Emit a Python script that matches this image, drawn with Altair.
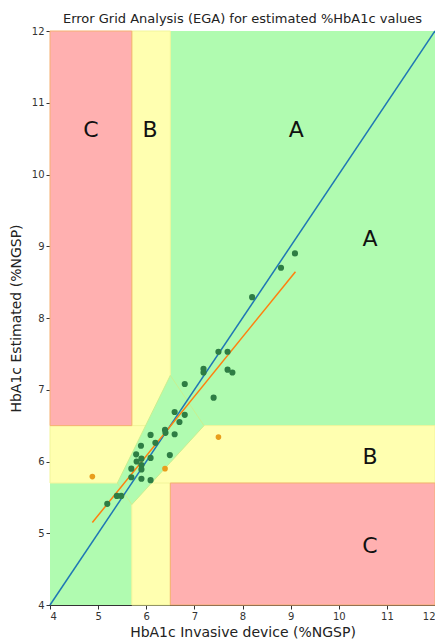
import altair as alt
import pandas as pd

# measured (dark green) points: invasive vs estimated
inv_a = [5.19, 5.39, 5.48, 5.69, 5.69, 5.79, 5.89, 5.90, 5.80, 5.90, 5.90, 5.90, 6.09, 6.09, 6.09,
         6.19, 6.39, 6.40, 6.59, 6.49, 6.59, 6.69, 6.80, 6.80, 7.19, 7.19, 7.40, 7.50, 7.69, 7.79,
         7.69, 8.20, 8.80, 9.09]
est_a = [5.41, 5.52, 5.52, 5.78, 5.90, 6.10, 6.22, 6.04, 6.00, 5.95, 5.89, 5.76, 5.74, 6.05, 6.37,
         6.26, 6.44, 6.40, 6.38, 6.09, 6.69, 6.55, 6.65, 7.08, 7.29, 7.24, 6.89, 7.53, 7.28, 7.24,
         7.53, 8.29, 8.70, 8.90]
# orange points
inv_b = [4.88, 6.39, 7.50]
est_b = [5.79, 5.90, 6.34]
# regression line end points
reg_x = [4.88, 9.10]
reg_y = [5.15, 8.645]

# zone labels
lab_text = ["C", "B", "A", "A", "B", "C"]
lab_x = [4.85, 6.08, 9.12, 10.65, 10.65, 10.65]
lab_y = [10.62, 10.62, 10.62, 9.10, 6.06, 4.82]

# zone geometry
rects = pd.DataFrame({
    "x":  [4.0, 6.5, 5.7, 4.0],
    "x2": [5.7, 12.0, 6.5, 12.0],
    "y":  [6.5, 4.0, 4.0, 5.7],
    "y2": [12.0, 5.7, 12.0, 6.5],
    "zone": ["C", "C", "B", "B"],
})
green_band = pd.DataFrame({
    "x":  [5.4, 5.7, 6.5, 7.2],
    "y":  [5.7, 5.4, 5.4 + 0.8 * 1.1 / 1.5, 6.5],
    "y2": [5.7, 5.7 + 0.3 * 1.5 / 1.1, 7.2, 6.5],
})

xs = alt.Scale(domain=[4, 12], nice=False, zero=False)
ys = alt.Scale(domain=[4, 12], nice=False, zero=False)
ticks = list(range(4, 13))

xaxis = alt.Axis(values=ticks, format="d", title="HbA1c Invasive device (%NGSP)", grid=False,
                 labelFontSize=10, titleFontSize=14, titleFontWeight="normal",
                 labelColor="#333", titleColor="#222", tickColor="#333", domainColor="#333",
                 tickSize=4, labelPadding=2, titlePadding=4, labelFont="DejaVu Sans", titleFont="DejaVu Sans")
yaxis = alt.Axis(values=ticks, format="d", title="HbA1c Estimated (%NGSP)", grid=False,
                 labelFontSize=10, titleFontSize=14, titleFontWeight="normal",
                 labelColor="#333", titleColor="#222", tickColor="#333", domainColor="#333",
                 tickSize=4, titlePadding=8, labelFont="DejaVu Sans", titleFont="DejaVu Sans")

bg = alt.Chart(pd.DataFrame({"x": [4.0], "x2": [12.0], "y": [4.0], "y2": [12.0]})).mark_rect(
    color="#b0fbb0").encode(
    x=alt.X("x:Q", scale=xs, axis=xaxis), x2="x2", y=alt.Y("y:Q", scale=ys, axis=yaxis), y2="y2")

zones = alt.Chart(rects).mark_rect(strokeWidth=1).encode(
    x=alt.X("x:Q", scale=xs), x2="x2", y=alt.Y("y:Q", scale=ys), y2="y2",
    fill=alt.Fill("zone:N", scale=alt.Scale(domain=["B", "C"], range=["#ffffb0", "#ffb0b0"]), legend=None),
    stroke=alt.Stroke("zone:N", scale=alt.Scale(domain=["B", "C"], range=["#f2f59a", "#f5b070"]), legend=None),
    order=alt.Order("zone:N", sort="ascending"),
)

band = alt.Chart(green_band).mark_area(color="#b0fbb0", stroke="#c8f090", strokeWidth=1).encode(
    x=alt.X("x:Q", scale=xs), y=alt.Y("y:Q", scale=ys), y2="y2")

ident = alt.Chart(pd.DataFrame({"x": [4, 12], "y": [4, 12]})).mark_line(
    color="#1f77b4", strokeWidth=1.5).encode(x=alt.X("x:Q", scale=xs), y=alt.Y("y:Q", scale=ys))

reg = alt.Chart(pd.DataFrame({"x": reg_x, "y": reg_y})).mark_line(
    color="#ff7f0e", strokeWidth=1.5).encode(x=alt.X("x:Q", scale=xs), y=alt.Y("y:Q", scale=ys))

pts_a = alt.Chart(pd.DataFrame({"x": inv_a, "y": est_a})).mark_circle(
    color="#2e7d44", opacity=1, size=38).encode(x=alt.X("x:Q", scale=xs), y=alt.Y("y:Q", scale=ys))

pts_b = alt.Chart(pd.DataFrame({"x": inv_b, "y": est_b})).mark_circle(
    color="#e89e1c", opacity=1, size=32).encode(x=alt.X("x:Q", scale=xs), y=alt.Y("y:Q", scale=ys))

labels = alt.Chart(pd.DataFrame({"t": lab_text, "x": lab_x, "y": lab_y})).mark_text(
    fontSize=22, font="DejaVu Sans", color="#111", align="center", baseline="middle").encode(
    x=alt.X("x:Q", scale=xs), y=alt.Y("y:Q", scale=ys), text="t:N")

chart = alt.layer(bg, zones, band, ident, reg, pts_a, pts_b, labels).properties(
    width=385, height=574,
    title=alt.TitleParams("Error Grid Analysis (EGA) for estimated %HbA1c values",
                          fontSize=13, fontWeight="normal", font="DejaVu Sans", color="#222",
                          offset=0),
    autosize=alt.AutoSizeParams(type="none"),
    padding={"left": 42, "top": 23, "right": 0, "bottom": 35},
).configure_view(stroke="#333", strokeWidth=1)

chart.save("out.html", embed_options={"renderer": "svg", "actions": False})
